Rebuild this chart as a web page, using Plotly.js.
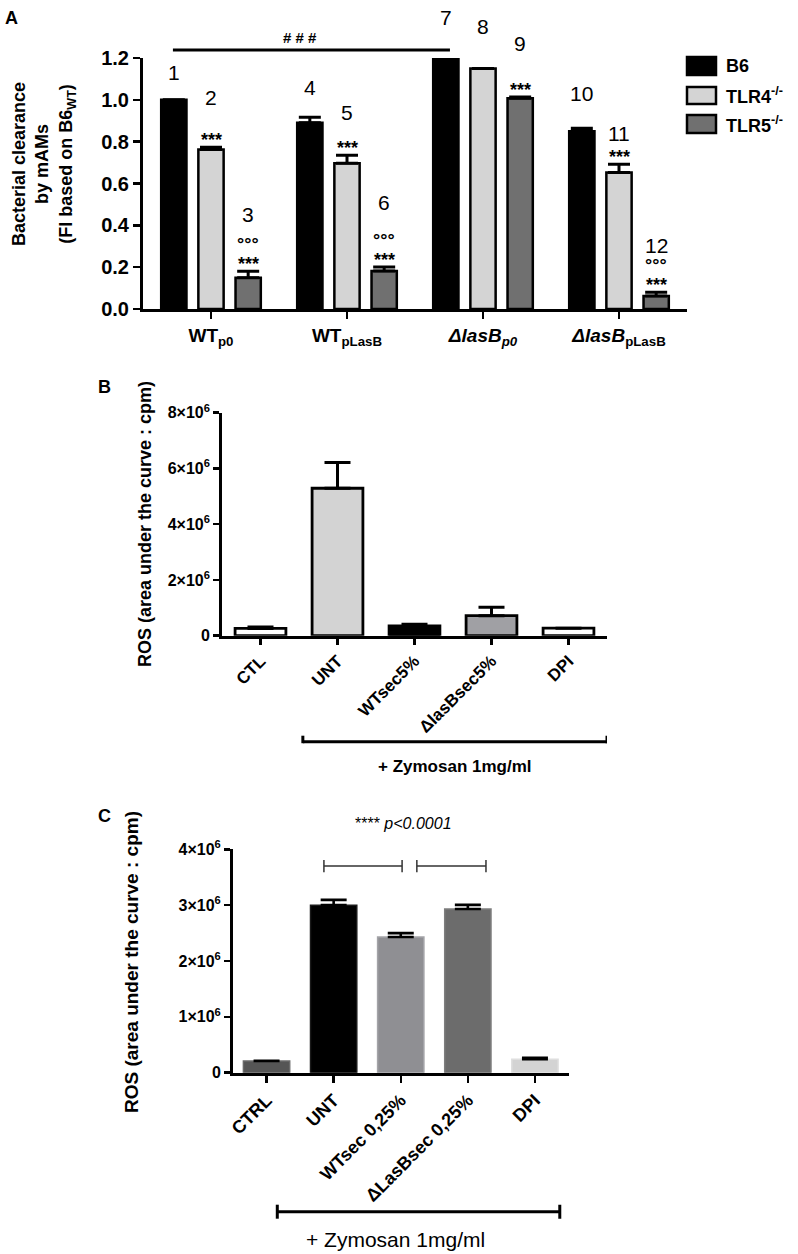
<!DOCTYPE html>
<html>
<head>
<meta charset="utf-8">
<script src="https://cdn.plot.ly/plotly-3.0.1.min.js"></script>
<style>
  html, body { margin: 0; padding: 0; background: #fff; }
  #fig { width: 798px; height: 1254px; }
</style>
</head>
<body>
<div id="fig"></div>
<script>
// ---- Panel A data: bacterial clearance by mAMs ----
const groupKeysA = ["WTp0", "WTpLasB", "dlasBp0", "dlasBpLasB"];
const groupLabelsA = [
  "WT<sub>p0</sub>",
  "WT<sub>pLasB</sub>",
  "<i>ΔlasB<sub>p0</sub></i>",
  "<i>ΔlasB</i><sub>pLasB</sub>",
];
const seriesNamesA = ["B6", "TLR4<sup>-/-</sup>", "TLR5<sup>-/-</sup>"];
const b6 = [1.0, 0.89, 1.2, 0.85];
const b6Err = [0, 0.027, 0, 0.014];
const tlr4 = [0.763, 0.697, 1.15, 0.653];
const tlr4Err = [0.01, 0.038, 0, 0.039];
const tlr5 = [0.149, 0.182, 1.007, 0.062];
const tlr5Err = [0.032, 0.019, 0.006, 0.018];
const starsA = [
  [false, false, false, false],
  [true, true, false, true],
  [true, true, true, true],
];
const circlesA = [
  [false, false, false, false],
  [false, false, false, false],
  [true, true, false, true],
];
const tickValsA = [0, 0.2, 0.4, 0.6, 0.8, 1.0, 1.2];

// ---- Panel B data: ROS, secretome 5% ----
const catsB = ["CTL", "UNT", "WTsec5%", "ΔlasBsec5%", "DPI"];
const rosB = [0.26e6, 5.29e6, 0.35e6, 0.72e6, 0.27e6];
const rosBErr = [0.05e6, 0.92e6, 0.06e6, 0.3e6, 0];
const tickValsB = [0, 2e6, 4e6, 6e6, 8e6];
const tickTextB = ["0", "2×10<sup>6</sup>", "4×10<sup>6</sup>", "6×10<sup>6</sup>", "8×10<sup>6</sup>"];

// ---- Panel C data: ROS, secretome 0.25% ----
const catsC = ["CTRL", "UNT", "WTsec 0,25%", "ΔLasBsec 0,25%", "DPI"];
const rosC = [0.21e6, 3.0e6, 2.43e6, 2.93e6, 0.24e6];
const rosCErr = [0.005e6, 0.095e6, 0.07e6, 0.075e6, 0.025e6];
const tickValsC = [0, 1e6, 2e6, 3e6, 4e6];
const tickTextC = ["0", "1×10<sup>6</sup>", "2×10<sup>6</sup>", "3×10<sup>6</sup>", "4×10<sup>6</sup>"];

// ---- styles ----
const FONT = "Liberation Sans, Arial, sans-serif";
const W = 798, H = 1254;
const colorsA = ["#000000", "#d4d4d4", "#707070"];
const colorsB = ["#ffffff", "#d3d3d3", "#000000", "#a0a0a4", "#ffffff"];
const colorsC = ["#555555", "#000000", "#8f8f93", "#6c6c6c", "#d3d3d3"];
const edgesC = ["#6a6a6a", "#1a1a1a", "#a4a4a8", "#7e7e7e", "#dedede"];
// label lift above bar top (px) for bar numbers 1..12
const numLift = [27, 50, 57, 30, 43, 64, 40, 42, 54, 35, 31, 47];
const BARGAP_A = 0.18;

// pixel helpers (figure uses zero margins)
const px = (x) => x / W;
const py = (y) => 1 - y / H;

// text placed at a pixel centre on the page
function pageText(text, x, y, size, extra) {
  return Object.assign({
    xref: "paper", yref: "paper", x: px(x), y: py(y),
    xanchor: "center", yanchor: "middle",
    text: text, showarrow: false,
    font: { family: FONT, size: size, color: "#000" },
  }, extra);
}

const valuesA = [b6, tlr4, tlr5];
const errsA = [b6Err, tlr4Err, tlr5Err];

const traces = [];

valuesA.forEach((vals, k) => {
  traces.push({
    type: "bar",
    x: groupKeysA,
    y: vals,
    xaxis: "x",
    yaxis: "y",
    name: seriesNamesA[k],
    showlegend: false,
    marker: { color: colorsA[k], line: { color: "#000", width: 2.5 } },
    error_y: {
      type: "data",
      symmetric: false,
      array: errsA[k],
      arrayminus: errsA[k].map(() => 0),
      color: "#000",
      thickness: 3,
      width: 11,
    },
  });
});

traces.push({
  type: "bar",
  x: catsB,
  y: rosB,
  xaxis: "x2",
  yaxis: "y2",
  width: 0.66,
  showlegend: false,
  marker: {
    color: colorsB,
    line: { color: "#000", width: 2.8 },
    pattern: {
      shape: ["", "", "", "", "."],
      fgcolor: "#a0a0a0",
      bgcolor: "#ffffff",
      size: 4,
      solidity: 0.45,
    },
  },
  error_y: {
    type: "data",
    symmetric: false,
    array: rosBErr,
    arrayminus: rosBErr.map(() => 0),
    color: "#000",
    thickness: 3,
    width: 13,
  },
});

traces.push({
  type: "bar",
  x: catsC,
  y: rosC,
  xaxis: "x3",
  yaxis: "y3",
  width: 0.69,
  showlegend: false,
  marker: { color: colorsC, line: { color: edgesC, width: 1.5 } },
  error_y: {
    type: "data",
    symmetric: false,
    array: rosCErr,
    arrayminus: rosCErr.map(() => 0),
    color: "#000",
    thickness: 2.6,
    width: 13,
  },
});

// ---- annotations ----
const ann = [];
const shapes = [];

// panel letters
ann.push(pageText("<b>A</b>", 11, 18, 18));
ann.push(pageText("<b>B</b>", 104, 387, 18));
ann.push(pageText("<b>C</b>", 104, 816, 18));

// y titles
ann.push(pageText("<b>Bacterial clearance<br>by mAMs<br>(FI based on B6<sub>WT</sub>)</b>",
  44, 164, 18, { textangle: -90 }));
ann.push(pageText("<b>ROS (area under the curve : cpm)</b>", 145, 524, 18, { textangle: -90 }));
ann.push(pageText("<b>ROS (area under the curve : cpm)</b>", 131, 962, 19, { textangle: -90 }));

// bar numbers, stars and circles in panel A
const slotA = (1 - BARGAP_A) / 3;
groupKeysA.forEach((g, gi) => {
  valuesA.forEach((vals, k) => {
    const xPos = gi + (k - 1) * slotA;
    const top = vals[gi] + errsA[k][gi];
    const n = gi * 3 + k + 1;
    ann.push({
      xref: "x", yref: "y", x: xPos, y: top, yshift: numLift[n - 1],
      text: String(n), showarrow: false, xanchor: "center", yanchor: "middle",
      font: { family: FONT, size: 21, color: "#000" },
    });
    if (starsA[k][gi]) {
      ann.push({
        xref: "x", yref: "y", x: xPos, y: top, yshift: 7,
        text: "<b>***</b>", showarrow: false, xanchor: "center", yanchor: "middle",
        font: { family: FONT, size: 18, color: "#000" },
      });
    }
    if (circlesA[k][gi]) {
      ann.push({
        xref: "x", yref: "y", x: xPos, y: top, yshift: 27,
        text: "<b>°°°</b>", showarrow: false, xanchor: "center", yanchor: "middle",
        font: { family: FONT, size: 18, color: "#000" },
      });
    }
  });
});

// ### bar in panel A
shapes.push({
  type: "line", xref: "x", yref: "paper", x0: -0.28, x1: 1.757,
  y0: py(50), y1: py(50), line: { color: "#000", width: 3 },
});
ann.push(pageText("<b># # #</b>", 300, 38, 15));

// custom legend for panel A
const legRows = [[57, 75], [87, 104], [115, 133]];
legRows.forEach(([y0, y1], k) => {
  shapes.push({
    type: "rect", xref: "paper", yref: "paper",
    x0: px(687), x1: px(716), y0: py(y1), y1: py(y0),
    fillcolor: colorsA[k], line: { color: "#000", width: 2.5 },
  });
  ann.push(pageText("<b>" + seriesNamesA[k] + "</b>", 724, (y0 + y1) / 2, 18,
    { xanchor: "left" }));
});

// zymosan bracket, panel B
const bY = 741.7;
shapes.push({
  type: "line", xref: "x2", yref: "paper", x0: 0.55, x1: 4.5,
  y0: py(bY), y1: py(bY), line: { color: "#000", width: 3 },
});
[0.55, 4.5].forEach((xv) => {
  shapes.push({
    type: "line", xref: "x2", yref: "paper", x0: xv, x1: xv,
    y0: py(bY - 6), y1: py(bY + 1.5), line: { color: "#000", width: 3 },
  });
});
ann.push({
  xref: "x2", yref: "paper", x: 2.525, y: py(766), xanchor: "center", yanchor: "middle",
  text: "<b>+ Zymosan 1mg/ml</b>", showarrow: false,
  font: { family: FONT, size: 17, color: "#000" },
});

// significance brackets, panel C
[[0.855, 2.02], [2.24, 3.27]].forEach(([a, b]) => {
  shapes.push({
    type: "line", xref: "x3", yref: "y3", x0: a, x1: b, y0: 3.7e6, y1: 3.7e6,
    line: { color: "#333", width: 1.5 },
  });
  [a, b].forEach((xv) => {
    shapes.push({
      type: "line", xref: "x3", yref: "y3", x0: xv, x1: xv,
      y0: 3.59e6, y1: 3.81e6, line: { color: "#333", width: 1.5 },
    });
  });
});
ann.push(pageText("**** <i>p<0.0001</i>", 403, 823, 16));

// zymosan bracket, panel C
const cY = 1211.7;
shapes.push({
  type: "line", xref: "x3", yref: "paper", x0: 0.16, x1: 4.37,
  y0: py(cY), y1: py(cY), line: { color: "#000", width: 3 },
});
[0.16, 4.37].forEach((xv) => {
  shapes.push({
    type: "line", xref: "x3", yref: "paper", x0: xv, x1: xv,
    y0: py(cY - 7), y1: py(cY + 7), line: { color: "#000", width: 3 },
  });
});
ann.push({
  xref: "x3", yref: "paper", x: 1.92, y: py(1239), xanchor: "center", yanchor: "middle",
  text: "+ Zymosan 1mg/ml", showarrow: false,
  font: { family: FONT, size: 21, color: "#000" },
});

// ---- axes ----
function catAxis(domain, anchor, extra) {
  return Object.assign({
    domain: domain, anchor: anchor, type: "category",
    showline: true, linecolor: "#000", linewidth: 3,
    ticks: "outside", ticklen: 7, tickwidth: 2.5, tickcolor: "#000",
    showgrid: false, zeroline: false, fixedrange: true,
    tickfont: { family: FONT, size: 16, color: "#000", weight: "bold" },
  }, extra);
}
function valAxis(domain, anchor, extra) {
  return Object.assign({
    domain: domain, anchor: anchor,
    showline: true, linecolor: "#000", linewidth: 3,
    ticks: "outside", ticklen: 6, tickwidth: 2.5, tickcolor: "#000",
    showgrid: false, zeroline: false, fixedrange: true,
    tickfont: { family: FONT, size: 16, color: "#000", weight: "bold" },
  }, extra);
}

const layout = {
  width: W,
  height: H,
  margin: { l: 0, r: 0, t: 0, b: 0 },
  paper_bgcolor: "#fff",
  plot_bgcolor: "#fff",
  barmode: "group",
  bargap: BARGAP_A,
  bargroupgap: 0.32,
  showlegend: false,
  font: { family: FONT, color: "#000" },
  xaxis: catAxis([px(143), px(687)], "y", {
    range: [-0.5, 3.5],
    tickvals: groupKeysA,
    ticktext: groupLabelsA,
    tickfont: { family: FONT, size: 19, color: "#000", weight: "bold" },
  }),
  yaxis: valAxis([py(309), py(58)], "x", {
    range: [0, 1.2],
    tickvals: tickValsA,
    tickformat: ".1f",
    ticklen: 7,
    tickfont: { family: FONT, size: 20, color: "#000", weight: "bold" },
  }),
  xaxis2: catAxis([px(222), px(607)], "y2", {
    range: [-0.5, 4.5],
    tickangle: -45,
    ticklen: 6,
    linewidth: 2.8,
    tickfont: { family: FONT, size: 17, color: "#000", weight: "bold" },
  }),
  yaxis2: valAxis([py(635.7), py(412.7)], "x2", {
    range: [0, 8e6],
    tickvals: tickValsB,
    ticktext: tickTextB,
    linewidth: 2.8,
  }),
  xaxis3: catAxis([px(233), px(568.5)], "y3", {
    range: [-0.5, 4.5],
    tickangle: -45,
    ticklen: 7,
    tickfont: { family: FONT, size: 18, color: "#000", weight: "bold" },
  }),
  yaxis3: valAxis([py(1072.7), py(849.3)], "x3", {
    range: [0, 4e6],
    tickvals: tickValsC,
    ticktext: tickTextC,
  }),
  annotations: ann,
  shapes: shapes,
};

Plotly.newPlot("fig", traces, layout, { displayModeBar: false, staticPlot: true });
</script>
</body>
</html>
